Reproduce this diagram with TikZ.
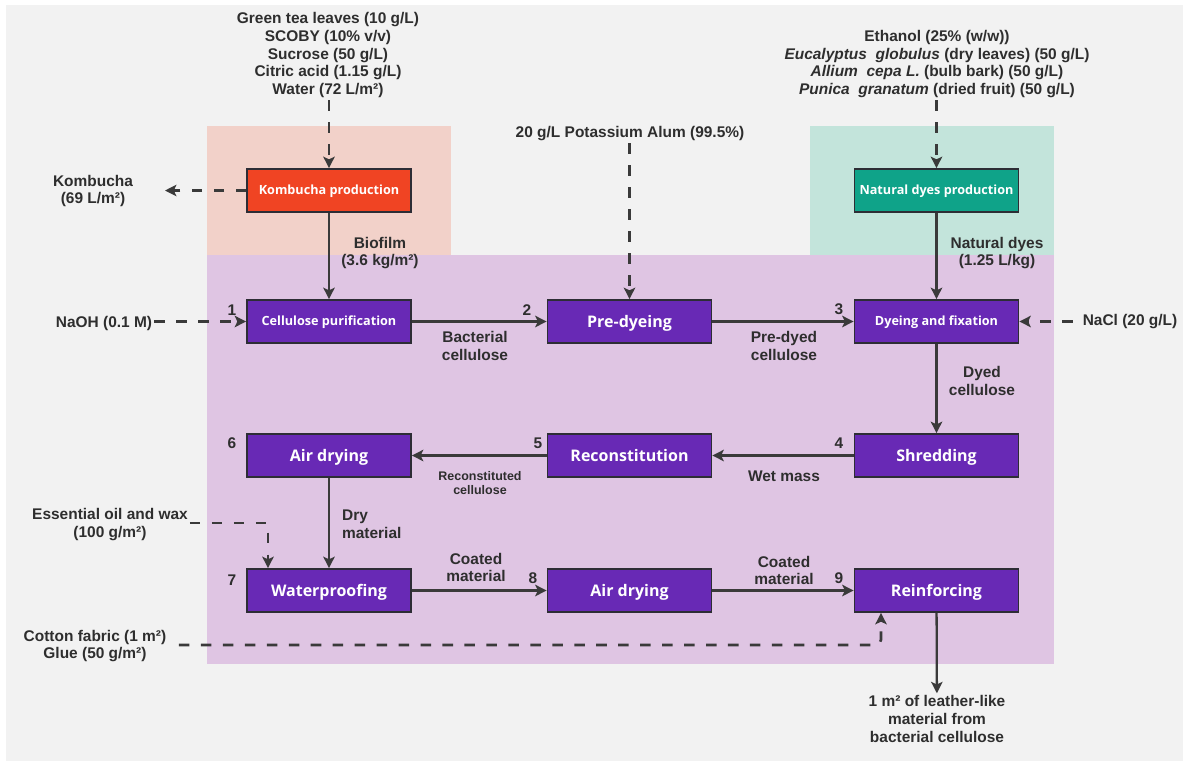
\documentclass[tikz,border=0pt]{standalone}
\usepackage{fontspec}
\setmainfont{Liberation Sans}
\newfontfamily\boxfont{Open Sans}
\usetikzlibrary{arrows.meta,positioning}

\definecolor{bggrey}{HTML}{F2F2F2}
\definecolor{salmonbg}{HTML}{F2D1C9}
\definecolor{tealbg}{HTML}{C3E4DB}
\definecolor{lilacbg}{HTML}{DFC5E3}
\definecolor{procpurple}{HTML}{6829B5}
\definecolor{kombred}{HTML}{F04423}
\definecolor{dyegreen}{HTML}{0FA389}
\definecolor{edgec}{HTML}{2D2D35}
\definecolor{txt}{HTML}{2E2E2E}
\definecolor{arrowc}{HTML}{3A3A3A}

\begin{document}
\begin{tikzpicture}
		[x=0.02cm, y=-0.02cm,
		every node/.style={font=\bfseries\fontsize{8.8}{10.2}\selectfont, text=txt, align=center, inner sep=1pt},
		proc/.style={draw=edgec, line width=1pt, fill=procpurple, minimum width=3.28cm, minimum height=0.86cm,
			inner sep=0pt, text=white, text height=6.5pt, text depth=0pt,
			font=\boxfont\bfseries\fontsize{9.1}{11}\selectfont},
		smallproc/.style={text height=5.1pt, font=\boxfont\bfseries\fontsize{7.2}{9}\selectfont},
		num/.style={font=\bfseries\fontsize{8.8}{10.2}\selectfont},
		flow/.style={draw=arrowc, line width=1.3pt, -{Stealth[length=6.5pt,width=6.5pt,inset=1.5pt]}},
		dflow/.style={flow, line width=1.5pt, dash pattern=on 6pt off 6.5pt},
		]

		% background and areas
		\useasboundingbox (0,0) rectangle (1188,765);
		\fill[white] (0,0) rectangle (1188,765);
		\fill[bggrey] (6,5) rectangle (1183,761);
		\fill[salmonbg] (207,126) rectangle (451,255);
		\fill[tealbg] (810,126) rectangle (1054,255);
		\fill[lilacbg] (207,255) rectangle (1054,664);

		% process steps
		\node[proc, fill=kombred, smallproc] (kp) at (329,190.5) {Kombucha production};
		\node[proc, fill=dyegreen, smallproc] (nd) at (936.5,190.5) {Natural dyes production};
		\node[proc, smallproc] (b1) at (329,321.5) {Cellulose purification};
		\node[proc] (b2) at (629.5,321.5) {Pre-dyeing};
		\node[proc, smallproc] (b3) at (936.5,321.5) {Dyeing and fixation};
		\node[proc] (b4) at (936.5,455.5) {Shredding};
		\node[proc] (b5) at (629.5,455.5) {Reconstitution};
		\node[proc] (b6) at (329,455.5) {Air drying};
		\node[proc] (b7) at (329,590.5) {Waterproofing};
		\node[proc] (b8) at (629.5,590.5) {Air drying};
		\node[proc] (b9) at (936.5,590.5) {Reinforcing};

		% step numbers
		\node[num] (n1) at (232,310) {1};
		\node[num] (n2) at (527,310) {2};
		\node[num] (n3) at (839,309) {3};
		\node[num] (n4) at (839,443) {4};
		\node[num] (n5) at (538,443) {5};
		\node[num] (n6) at (232,443) {6};
		\node[num] (n7) at (232,580) {7};
		\node[num] (n8) at (533,578) {8};
		\node[num] (n9) at (839,578) {9};

		% inputs and outputs
		\node (gt) at (328,55) {Green tea leaves (10 g/L)\\SCOBY (10\% v/v)\\Sucrose (50 g/L)\\Citric acid (1.15 g/L)\\Water (72 L/m²)};
		\node (eth) at (937,64) {Ethanol (25\% (w/w))\\\textit{Eucalyptus\ \ globulus} (dry leaves) (50 g/L)\\\textit{Allium\ \ cepa L.} (bulb bark) (50 g/L)\\\textit{Punica\ \ granatum} (dried fruit) (50 g/L)};
		\node (alum) at (630,134) {20 g/L Potassium Alum (99.5\%)};
		\node (kout) at (93,191) {Kombucha\\(69 L/m²)};
		\node (naoh) at (104,323) {NaOH (0.1 M)};
		\node (nacl) at (1130,322) {NaCl (20 g/L)};
		\node (eo) at (110,524.5) {Essential oil and wax\\(100 g/m²)};
		\node (cf) at (95,646) {Cotton fabric (1 m²)\\Glue (50 g/m²)};
		\node (out) at (937,719) {1 m² of leather-like\\material from\\bacterial cellulose};

		% flow labels
		\node (lbio) at (380,253) {Biofilm\\(3.6 kg/m²)};
		\node (lnd) at (997,253) {Natural dyes\\(1.25 L/kg)};
		\node (lbc) at (475,346) {Bacterial\\cellulose};
		\node (lpd) at (784,346) {Pre-dyed\\cellulose};
		\node (ldc) at (982,381) {Dyed\\cellulose};
		\node (lwm) at (784,476) {Wet mass};
		\node[font=\bfseries\fontsize{7.1}{8}\selectfont] (lrc) at (480,483) {Reconstituted\\cellulose};
		\node[anchor=west, align=left] (ldm) at (340,524) {Dry\\material};
		\node (lcm1) at (476,567.5) {Coated\\material};
		\node (lcm2) at (784,570.5) {Coated\\material};

		% connectors
		\coordinate (kend) at (165,190.5);
		\coordinate (eoturn) at (268,523);
		\coordinate (cfturn) at (881,645);
		\draw[dflow] (gt.south -| kp.north) -- (kp.north);
		\draw[dflow] (eth.south -| nd.north) -- (nd.north);
		\draw[dflow] (kp.west) -- (kend);
		\draw[dflow] (alum.south -| b2.north) -- (b2.north);
		\draw[dflow] (naoh.east |- b1.west) -- (b1.west);
		\draw[dflow] ([xshift=-4.5pt]nacl.west |- b3.east) -- (b3.east);
		\draw[dflow] (eo.east |- eoturn) -- (eoturn) -- (eoturn |- b7.north);
		\draw[dflow, rounded corners=3pt] ([xshift=6pt]cf.east |- cfturn) -- (cfturn) -- (cfturn |- b9.south);
		\draw[flow] (kp) -- (b1);
		\draw[flow] (nd) -- (b3);
		\draw[flow] (b1) -- (b2);
		\draw[flow] (b2) -- (b3);
		\draw[flow] (b3) -- (b4);
		\draw[flow] (b4) -- (b5);
		\draw[flow] (b5) -- (b6);
		\draw[flow] (b6) -- (b7);
		\draw[flow] (b7) -- (b8);
		\draw[flow] (b8) -- (b9);
		\draw[flow] (b9) -- (out);
	\end{tikzpicture}
\end{document}
